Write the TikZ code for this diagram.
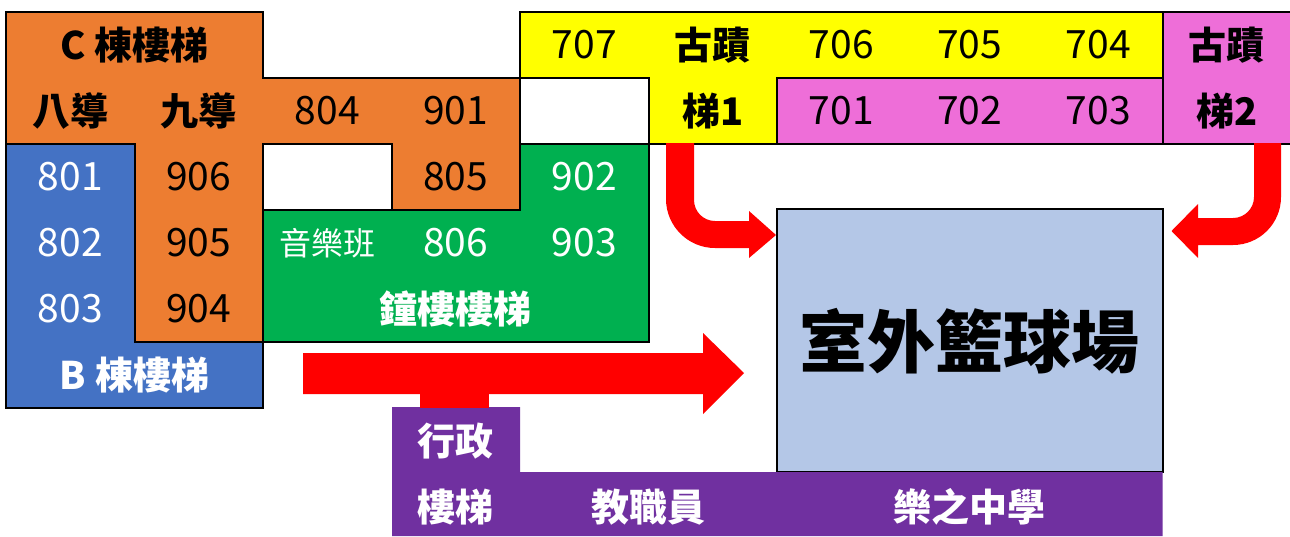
\documentclass[tikz,border=0pt]{standalone}
\usepackage{fontspec}
\setmainfont{Noto Sans CJK TC}
\definecolor{corange}{HTML}{ED7D31}
\definecolor{cblue}{HTML}{4472C4}
\definecolor{cgreen}{HTML}{00B050}
\definecolor{cyellow}{HTML}{FFFF00}
\definecolor{cpink}{HTML}{EE6ED8}
\definecolor{cpurple}{HTML}{7030A0}
\definecolor{ccourt}{HTML}{B4C7E7}
\definecolor{cred}{HTML}{FF0000}
\begin{document}
\begin{tikzpicture}[x=1pt,y=-1pt,line width=2pt,line join=miter,
  region/.style={draw=black},
  lbl/.style={inner sep=0pt,font=\fontsize{39}{42}\selectfont},
  blbl/.style={inner sep=0pt,font=\fontsize{38}{42}\selectfont\bfseries},
  wt/.style={text=white},
  redarrow/.style={fill=cred,draw=none}]
\useasboundingbox (0,0) rectangle (1290,536);
% orange C building
\path[region,fill=corange] (6,12) -- (263,12) -- (263,78) -- (520,78) -- (520,210) -- (391.5,210) -- (391.5,144) -- (263,144) -- (263,342) -- (134.5,342) -- (134.5,144) -- (6,144) -- cycle;
% blue B building
\path[region,fill=cblue] (6,144) -- (134.5,144) -- (134.5,342) -- (263,342) -- (263,408) -- (6,408) -- cycle;
% green clock tower
\path[region,fill=cgreen] (263,210) -- (520,210) -- (520,144) -- (648.5,144) -- (648.5,342) -- (263,342) -- cycle;
% white boxes
\path[region,fill=white] (263,144) rectangle (391.5,210);
\path[region,fill=white] (520,78) rectangle (648.5,144);
% yellow
\path[region,fill=cyellow] (520,12) -- (1162.5,12) -- (1162.5,78) -- (777,78) -- (777,144) -- (648.5,144) -- (648.5,78) -- (520,78) -- cycle;
% pink
\path[region,fill=cpink] (777,78) rectangle (1162.5,144);
\path[region,fill=cpink] (1162.5,12) rectangle (1295,144);
% court
\path[region,fill=ccourt] (777,209) rectangle (1162.5,472);
% purple
\path[fill=cpurple] (392,407) -- (520,407) -- (520,472) -- (1162.5,472) -- (1162.5,536) -- (392,536) -- cycle;
% arrows
\path[redarrow] (303,353) -- (703,353) -- (703,333) -- (744,373) -- (703,414) -- (703,394) -- (303,394) -- cycle;
\path[redarrow] (420,393) rectangle (489,407.5);
\path[redarrow] (666,143) -- (694,143) -- (694,200) .. controls (694,211.6) and (703.4,221) .. (715,221) -- (749,221) -- (749,211) -- (776,235) -- (749,258) -- (749,248) -- (715,248) .. controls (688,248) and (666,226) .. (666,199) -- cycle;
\path[redarrow] (1281,143) -- (1254,143) -- (1254,197) .. controls (1254,208.6) and (1244.6,218) .. (1233,218) -- (1198,218) -- (1198,204) -- (1171.5,231) -- (1198,258) -- (1198,245) -- (1233,245) .. controls (1259.5,245) and (1281,223.5) .. (1281,197) -- cycle;
% labels row 0
\node[blbl] (cstair) at (134.5,45) {C 棟樓梯};
\node[lbl] (r707) at (584.25,45) {707};
\node[blbl] (gj1a) at (712.75,45) {古蹟};
\node[lbl] (r706) at (841.25,45) {706};
\node[lbl] (r705) at (969.75,45) {705};
\node[lbl] (r704) at (1098.25,45) {704};
\node[blbl] (gj2a) at (1226.75,45) {古蹟};
% row 1
\node[blbl] (bd8) at (70.25,111) {八導};
\node[blbl] (bd9) at (198.75,111) {九導};
\node[lbl] (r804) at (327.25,111) {804};
\node[lbl] (r901) at (455.75,111) {901};
\node[blbl] (gj1b) at (712.75,111) {梯1};
\node[lbl] (r701) at (841.25,111) {701};
\node[lbl] (r702) at (969.75,111) {702};
\node[lbl] (r703) at (1098.25,111) {703};
\node[blbl] (gj2b) at (1226.75,111) {梯2};
% row 2
\node[lbl,wt] (r801) at (70.25,177) {801};
\node[lbl] (r906) at (198.75,177) {906};
\node[lbl] (r805) at (455.75,177) {805};
\node[lbl,wt] (r902) at (584.25,177) {902};
% row 3
\node[lbl,wt] (r802) at (70.25,243) {802};
\node[lbl] (r905) at (198.75,243) {905};
\node[inner sep=0pt,font=\fontsize{32}{36}\selectfont,text=white] (music) at (327.25,243) {音樂班};
\node[lbl,wt] (r806) at (455.75,243) {806};
\node[lbl,wt] (r903) at (584.25,243) {903};
% row 4
\node[lbl,wt] (r803) at (70.25,309) {803};
\node[lbl] (r904) at (198.75,309) {904};
\node[blbl,wt] (bell) at (455.75,309) {鐘樓樓梯};
% row 5
\node[blbl,wt] (bstair) at (134.5,375) {B 棟樓梯};
% purple
\node[blbl,wt] (admin1) at (455.75,441) {行政};
\node[blbl,wt] (admin2) at (455.75,507) {樓梯};
\node[blbl,wt] (staff) at (648.5,507) {教職員};
\node[blbl,wt] (school) at (969.75,507) {樂之中學};
% court label
\node[inner sep=0pt,font=\fontsize{68}{72}\selectfont\bfseries] (court) at (969.75,341) {室外籃球場};
\end{tikzpicture}
\end{document}
